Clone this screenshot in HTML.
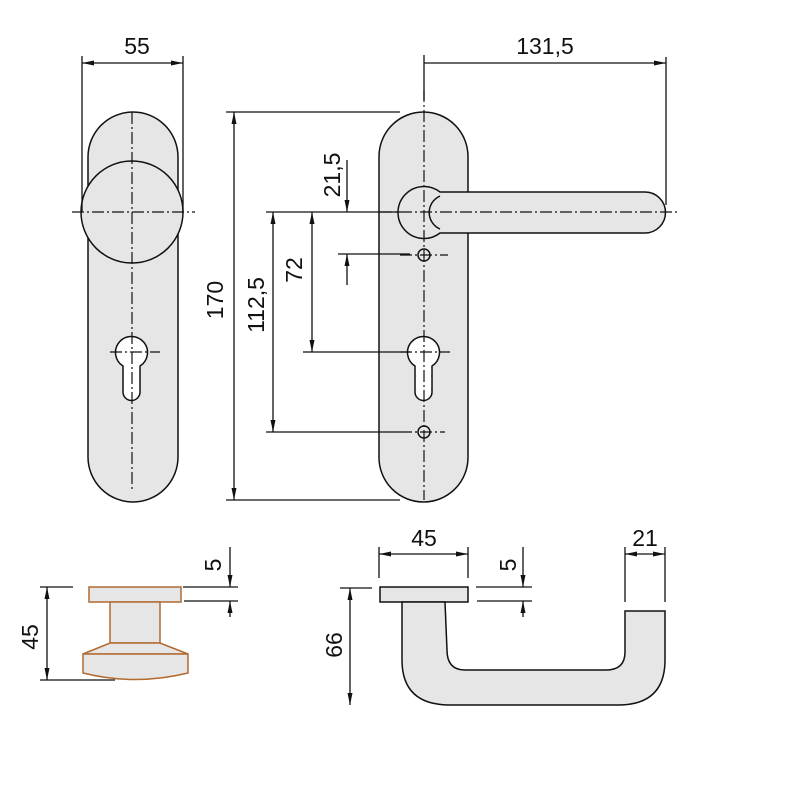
<!DOCTYPE html>
<html><head><meta charset="utf-8"><style>body{margin:0;background:#fff}svg{display:block}</style></head><body>
<svg width="800" height="800" viewBox="0 0 800 800" xmlns="http://www.w3.org/2000/svg" font-family="Liberation Sans, sans-serif">
<defs><marker id="a" viewBox="0 0 12 5" refX="12" refY="2.5" markerWidth="12" markerHeight="5" orient="auto-start-reverse" markerUnits="userSpaceOnUse"><path d="M0,0 L12,2.5 L0,5 Z" fill="#111"/></marker></defs>
<g stroke="#111" stroke-width="1.5" fill="#e6e6e6">
<rect x="88" y="112" width="90" height="390" rx="45" ry="45"/>
<circle cx="132" cy="212" r="51"/>
<path d="M123,366 A16,16 0 1 1 140,366 L140,392 A8.5,8.5 0 0 1 123,392 Z" fill="#fff"/>
<rect x="379" y="112" width="89" height="390" rx="44.5" ry="44.5"/>
<path d="M440,192 L645,192 A20.5,20.5 0 0 1 645,233 L440,233 A26,26 0 1 1 440,192 Z"/>
<path d="M440,196 A18,18 0 0 0 440,229" fill="none"/>
<path d="M415,366 A16,16 0 1 1 432,366 L432,392 A8.5,8.5 0 0 1 415,392 Z" fill="#fff"/>
<circle cx="424" cy="255" r="6" fill="none"/>
<circle cx="424" cy="432" r="6" fill="none"/>
<rect x="380" y="587" width="88" height="15"/>
<path d="M402,602 L402,660 Q402,705 450,705 L618,705 Q665,705 665,660 L665,611 L625,611 L625,652 Q625,670 606,670 L465,670 Q447,670 447,650 L445,602 Z"/>
</g>
<g stroke="#b06a30" stroke-width="1.5" fill="#e6e6e6">
<rect x="89" y="587" width="92" height="15"/>
<rect x="110" y="602" width="50" height="41"/>
<path d="M110,643 L160,643 L188,654 L83,654 Z"/>
<path d="M83,654 L188,654 L188,673 Q135,686 83,673 Z"/>
</g>
<g stroke="#111" stroke-width="1.2" stroke-dasharray="12,3,2,3" fill="none">
<line x1="132" y1="112" x2="132" y2="492"/>
<line x1="72" y1="212" x2="195" y2="212"/>
<line x1="424" y1="90" x2="424" y2="500"/>
<line x1="380" y1="212" x2="680" y2="212"/>
<line x1="110" y1="352" x2="160" y2="352"/>
<line x1="400" y1="352" x2="450" y2="352"/>
<line x1="400" y1="255" x2="448" y2="255"/>
<line x1="400" y1="432" x2="445" y2="432"/>
</g>
<g stroke="#111" stroke-width="1.3" fill="none">
<line x1="82" y1="56" x2="82" y2="212"/><line x1="183" y1="56" x2="183" y2="212"/>
<line x1="82" y1="63" x2="183" y2="63" marker-start="url(#a)" marker-end="url(#a)"/>
<line x1="424" y1="55" x2="424" y2="100"/><line x1="666" y1="57" x2="666" y2="205"/>
<line x1="424" y1="63" x2="666" y2="63" marker-end="url(#a)"/>
<line x1="226" y1="112" x2="400" y2="112"/><line x1="226" y1="500" x2="400" y2="500"/>
<line x1="234" y1="112" x2="234" y2="500" marker-start="url(#a)" marker-end="url(#a)"/>
<line x1="266" y1="212" x2="400" y2="212"/><line x1="266" y1="432" x2="400" y2="432"/>
<line x1="273" y1="212" x2="273" y2="432" marker-start="url(#a)" marker-end="url(#a)"/>
<line x1="303" y1="352" x2="410" y2="352"/>
<line x1="312" y1="212" x2="312" y2="352" marker-start="url(#a)" marker-end="url(#a)"/>
<line x1="338" y1="254" x2="410" y2="254"/>
<line x1="347" y1="160" x2="347" y2="212" marker-end="url(#a)"/>
<line x1="347" y1="254" x2="347" y2="285" marker-start="url(#a)"/>
<line x1="40" y1="587" x2="73" y2="587"/><line x1="40" y1="680" x2="115" y2="680"/>
<line x1="47" y1="587" x2="47" y2="680" marker-start="url(#a)" marker-end="url(#a)"/>
<line x1="183" y1="587" x2="238" y2="587"/><line x1="184" y1="601" x2="238" y2="601"/>
<line x1="230" y1="547" x2="230" y2="587" marker-end="url(#a)"/>
<line x1="230" y1="601" x2="230" y2="617" marker-start="url(#a)"/>
<line x1="379" y1="547" x2="379" y2="578"/><line x1="468" y1="547" x2="468" y2="578"/>
<line x1="379" y1="554" x2="468" y2="554" marker-start="url(#a)" marker-end="url(#a)"/>
<line x1="476" y1="587" x2="532" y2="587"/><line x1="477" y1="601" x2="532" y2="601"/>
<line x1="523" y1="547" x2="523" y2="587" marker-end="url(#a)"/>
<line x1="523" y1="601" x2="523" y2="617" marker-start="url(#a)"/>
<line x1="625" y1="547" x2="625" y2="602"/><line x1="665" y1="547" x2="665" y2="602"/>
<line x1="625" y1="554" x2="665" y2="554" marker-start="url(#a)" marker-end="url(#a)"/>
<line x1="340" y1="588" x2="372" y2="588"/>
<line x1="350" y1="588" x2="350" y2="705" marker-start="url(#a)" marker-end="url(#a)"/>
</g>
<g fill="#111" font-size="23">
<text x="137" y="54" text-anchor="middle">55</text>
<text x="545" y="54" text-anchor="middle">131,5</text>
<text x="424" y="546" text-anchor="middle">45</text>
<text x="645" y="546" text-anchor="middle">21</text>
<text transform="translate(223,300) rotate(-90)" text-anchor="middle">170</text>
<text transform="translate(264,305) rotate(-90)" text-anchor="middle">112,5</text>
<text transform="translate(302,270) rotate(-90)" text-anchor="middle">72</text>
<text transform="translate(340,175) rotate(-90)" text-anchor="middle">21,5</text>
<text transform="translate(38,637) rotate(-90)" text-anchor="middle">45</text>
<text transform="translate(221,565) rotate(-90)" text-anchor="middle">5</text>
<text transform="translate(516,565) rotate(-90)" text-anchor="middle">5</text>
<text transform="translate(342,645) rotate(-90)" text-anchor="middle">66</text>
</g>
</svg>
</body></html>
